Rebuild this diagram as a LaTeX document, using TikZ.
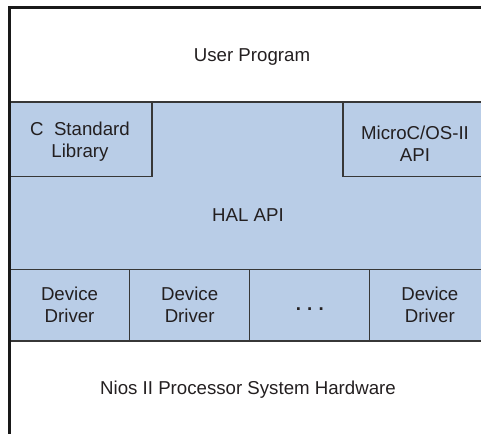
\documentclass[tikz,border=0pt]{standalone}
\usepackage{fontspec}
\setmainfont{Liberation Sans}
\definecolor{halblue}{RGB}{185,205,231}
\definecolor{linegray}{RGB}{55,55,55}
\definecolor{textgray}{RGB}{35,31,32}
\tikzset{
  layer/.style={draw=linegray, line width=0.8pt, fill=halblue, inner sep=0pt},
  txt/.style={align=center, text=textgray, inner sep=0pt,
    font=\fontsize{14}{16.5}\selectfont},
  drvbox/.style={layer, txt, minimum width=90.075pt, minimum height=53.775pt},
  frame/.style={draw=black!90, line width=1.9pt}
}
\begin{document}
\begin{tikzpicture}[x=0.75pt, y=-0.75pt]
    \useasboundingbox (0,0) rectangle (481,433);
    \clip (0,0) rectangle (481,433);
    % HAL layer and the two APIs sitting on it
    \node[layer, minimum width=360.375pt, minimum height=125.475pt]
      (hal) at (249.75,185.65) {};
    \node[layer, minimum width=106.875pt, minimum height=56.025pt]
      (clib) at (80.75,139.35) {};
    \node[layer, minimum width=110.25pt, minimum height=56.025pt]
      (microc) at (416.5,139.35) {};
    \node[txt] (cliblabel) at (80,142) {C\ \ Standard\\Library};
    \node[txt] (microclabel) at (415,144) {MicroC/OS-II\\API};
    \node[txt] (halapi) at (248,215) {HAL API};
    % device drivers
    \foreach \i/\t in {1/{Device\\Driver}, 2/{Device\\Driver},
                       3/{\raisebox{-4pt}[0pt][0pt]{\textbf{.\,\,.\,\,.}}},
                       4/{Device\\Driver}} {
      \node[drvbox] (drv\i) at ({9.5+(\i-0.5)*120.1}, 305.15) {\t};
    }
    \node[txt] (userprog) at (252,57) {User Program};
    \node[txt] (hw) at (248,390) {Nios II Processor System Hardware};
    % outer frame, cut off at the right and bottom
    \draw[frame] (9.5,445) |- (495,7.5);
  \end{tikzpicture}
\end{document}
